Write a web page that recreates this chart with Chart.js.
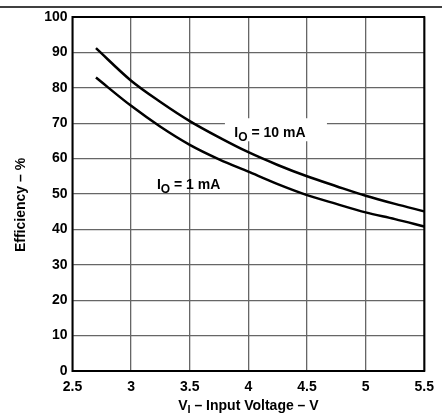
<!DOCTYPE html>
<html>
<head>
<meta charset="utf-8">
<script src="https://cdn.jsdelivr.net/npm/chart.js@4/dist/chart.umd.min.js"></script>
<style>
  html, body { margin: 0; padding: 0; background: #fff; }
  #wrap { width: 442px; height: 416px; position: relative; }
</style>
</head>
<body>
<div id="wrap"><canvas id="eff"></canvas></div>
<script>
// input voltage (V) and efficiency (%)
const vin = [2.7, 3.0, 3.25, 3.5, 3.75, 4.0, 4.25, 4.5, 4.75, 5.0, 5.25, 5.5];
const eff10mA = [91.2, 82.0, 76.0, 70.6, 66.0, 61.8, 58.2, 55.0, 52.2, 49.5, 47.2, 45.1];
const eff1mA = [82.9, 74.9, 69.0, 63.9, 59.8, 56.3, 52.8, 49.7, 47.2, 44.8, 42.9, 40.8];
const xTicks = [2.5, 3, 3.5, 4, 4.5, 5, 5.5];
const yTicks = [0, 10, 20, 30, 40, 50, 60, 70, 80, 90, 100];

const FONT = '"Liberation Sans", Arial, sans-serif';

function toPoints(ys) {
  return vin.map((v, i) => ({ x: v, y: ys[i] }));
}

// draws "I" + subscript "O" + rest, left aligned at x, baseline y
function subLabel(ctx, x, y, rest) {
  ctx.fillStyle = '#000';
  ctx.textBaseline = 'alphabetic';
  ctx.textAlign = 'left';
  ctx.font = 'bold 14px ' + FONT;
  ctx.fillText('I', x, y);
  let w = ctx.measureText('I').width;
  ctx.font = 'bold 12px ' + FONT;
  ctx.fillText('O', x + w, y + 4);
  w += ctx.measureText('O').width;
  ctx.font = 'bold 14px ' + FONT;
  ctx.fillText(rest, x + w, y);
}

const decor = {
  id: 'decor',
  beforeDatasetsDraw(chart) {
    const { ctx, scales: { x, y } } = chart;
    // white patch in the grid behind the 10 mA label
    const x0 = x.getPixelForValue(3.8), x1 = x.getPixelForValue(4.67);
    const y0 = y.getPixelForValue(71.4), y1 = y.getPixelForValue(64.9);
    ctx.save();
    ctx.fillStyle = '#fff';
    ctx.fillRect(x0, y0, x1 - x0, y1 - y0);
    ctx.restore();
  },
  afterDraw(chart) {
    const { ctx, chartArea: a, scales: { x, y } } = chart;
    ctx.save();
    // frame
    ctx.strokeStyle = '#000';
    ctx.lineWidth = 2;
    ctx.strokeRect(a.left, a.top, a.right - a.left, a.bottom - a.top);
    // rule across the top of the page
    ctx.lineWidth = 1.5;
    ctx.beginPath();
    ctx.moveTo(0, 7);
    ctx.lineTo(chart.width, 7);
    ctx.stroke();

    // curve labels
    subLabel(ctx, x.getPixelForValue(3.88), y.getPixelForValue(66.0), ' = 10 mA');
    subLabel(ctx, x.getPixelForValue(3.22), y.getPixelForValue(51.4), ' = 1 mA');

    // y title
    ctx.fillStyle = '#000';
    ctx.font = 'bold 14px ' + FONT;
    ctx.textAlign = 'center';
    ctx.textBaseline = 'middle';
    ctx.translate(21, 205);
    ctx.rotate(-Math.PI / 2);
    ctx.fillText('Efficiency – %', 0, 0);
    ctx.restore();

    // x title with subscript
    ctx.save();
    ctx.fillStyle = '#000';
    ctx.textBaseline = 'alphabetic';
    ctx.textAlign = 'left';
    ctx.font = 'bold 14px ' + FONT;
    const p1 = 'V', p2 = 'I', p3 = ' – Input Voltage – V';
    const w1 = ctx.measureText(p1).width;
    const w3 = ctx.measureText(p3).width;
    ctx.font = 'bold 11px ' + FONT;
    const w2 = ctx.measureText(p2).width;
    const total = w1 + w2 + w3;
    const sx = (a.left + a.right) / 2 - total / 2;
    const by = 410;
    ctx.font = 'bold 14px ' + FONT;
    ctx.fillText(p1, sx, by);
    ctx.font = 'bold 11px ' + FONT;
    ctx.fillText(p2, sx + w1, by + 3);
    ctx.font = 'bold 14px ' + FONT;
    ctx.fillText(p3, sx + w1 + w2, by);
    ctx.restore();
  }
};

const lineStyle = {
  borderColor: '#000',
  borderWidth: 2.5,
  pointRadius: 0,
  fill: false,
  cubicInterpolationMode: 'monotone'
};

new Chart(document.getElementById('eff'), {
  type: 'line',
  data: {
    datasets: [
      { ...lineStyle, label: 'IO = 10 mA', data: toPoints(eff10mA) },
      { ...lineStyle, label: 'IO = 1 mA', data: toPoints(eff1mA) }
    ]
  },
  options: {
    responsive: true,
    maintainAspectRatio: false,
    animation: false,
    layout: { padding: { top: 17, right: 14, left: 0, bottom: 0 } },
    plugins: { legend: { display: false }, tooltip: { enabled: false } },
    scales: {
      x: {
        type: 'linear',
        min: 2.5,
        max: 5.5,
        afterBuildTicks: (s) => { s.ticks = xTicks.map(v => ({ value: v })); },
        afterFit: (s) => { s.height = 45; },
        grid: { color: '#666', lineWidth: 1.3, drawTicks: false },
        border: { display: false },
        ticks: {
          padding: 8,
          color: '#000',
          font: { family: FONT, size: 14, weight: 'bold' },
          callback: (v) => String(v)
        }
      },
      y: {
        min: 0,
        max: 100,
        afterBuildTicks: (s) => { s.ticks = yTicks.map(v => ({ value: v })); },
        afterFit: (s) => { s.width = 72.5; },
        grid: { color: '#666', lineWidth: 1.3, drawTicks: false },
        border: { display: false },
        ticks: {
          padding: 5,
          color: '#000',
          font: { family: FONT, size: 14, weight: 'bold' }
        }
      }
    }
  },
  plugins: [decor]
});
</script>
</body>
</html>
